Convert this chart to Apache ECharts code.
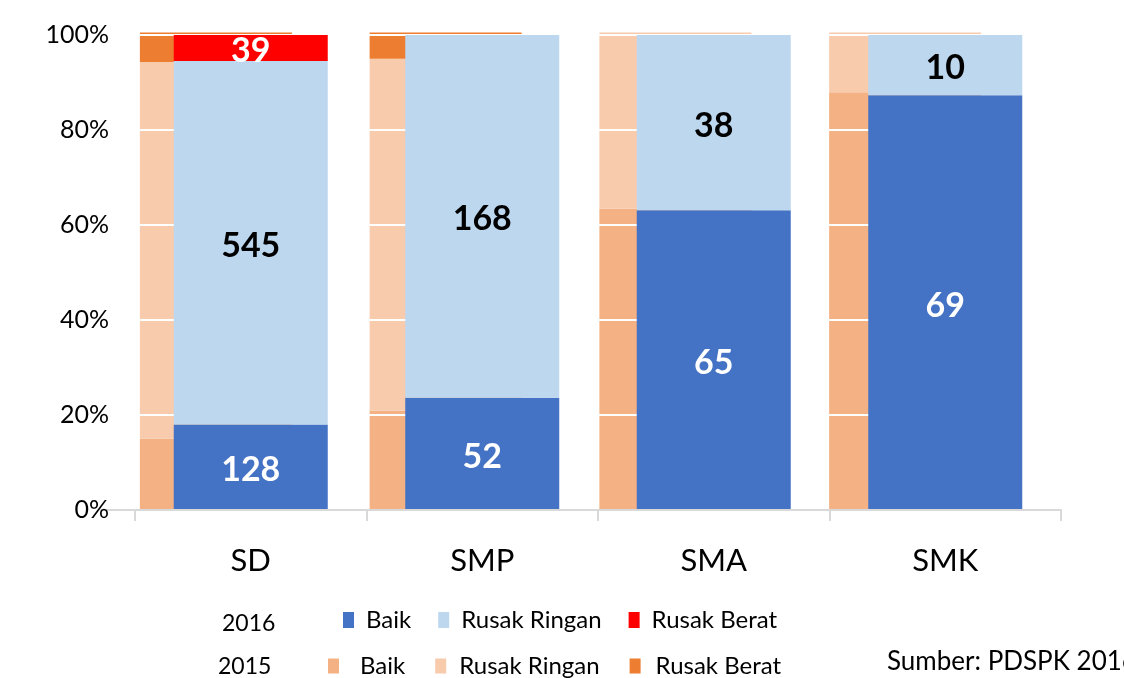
<!DOCTYPE html>
<html>
<head>
<meta charset="utf-8">
<script src="https://cdn.jsdelivr.net/npm/echarts@6/dist/echarts.min.js"></script>
<style>
  html, body { margin: 0; background: #fff; }
  #chart { width: 1124px; height: 678px; }
</style>
</head>
<body>
<div id="chart"></div>
<script>
var categories = ['SD', 'SMP', 'SMA', 'SMK'];
// 2016 - jumlah ruang kelas (labels on the bars)
var baik2016 = [128, 52, 65, 69];
var ringan2016 = [545, 168, 38, 10];
var berat2016 = [39, 0, 0, 0];
// 2015 - shares in %
var baik2015 = [14.9, 20.8, 63.1, 87.5];
var ringan2015 = [78.9, 73.7, 36.9, 12.5];
var berat2015 = [6.2, 5.5, 0, 0];
var yTicks = [0, 20, 40, 60, 80, 100];

var FONT = 'Lato';

function toPercent(arr) {
  return arr.map(function (v, i) {
    var total = baik2016[i] + ringan2016[i] + berat2016[i];
    return v / total * 100;
  });
}

function countLabel(counts, color) {
  return {
    show: true,
    position: 'inside',
    offset: [0, 3],
    color: color,
    fontFamily: FONT,
    fontWeight: 'bold',
    fontSize: 34,
    formatter: function (p) {
      var v = counts[p.dataIndex];
      return v ? String(v) : '';
    }
  };
}

var chart = echarts.init(document.getElementById('chart'));

chart.setOption({
  backgroundColor: '#fff',
  animation: false,
  grid: [
    { left: 135, width: 926, top: 35, height: 475 },   // 2016
    { left: 101, width: 919, top: 32.5, height: 477.5 }  // 2015 (behind, shifted)
  ],
  xAxis: [{
    type: 'category',
    gridIndex: 0,
    data: categories,
    z: 6,
    axisLine: { lineStyle: { color: '#d9d9d9', width: 2 } },
    axisTick: { show: true, length: 11, lineStyle: { color: '#d9d9d9', width: 2 } },
    axisLabel: { color: '#000', fontFamily: FONT, fontSize: 31, margin: 35 }
  }, {
    type: 'category',
    gridIndex: 1,
    data: categories,
    axisLine: { lineStyle: { color: '#d9d9d9', width: 2 } },
    axisTick: { show: false },
    axisLabel: { show: false }
  }],
  yAxis: [{
    type: 'value',
    gridIndex: 0,
    min: yTicks[0],
    max: yTicks[yTicks.length - 1],
    interval: 20,
    z: 3,
    axisLine: { show: false },
    axisTick: { show: false },
    splitLine: { lineStyle: { color: '#fff', width: 2 } },
    axisLabel: { color: '#000', fontFamily: FONT, fontSize: 25, margin: 26, formatter: '{value}%' }
  }, {
    type: 'value',
    gridIndex: 1,
    min: 0,
    max: 100,
    show: false,
    splitLine: { show: false }
  }],
  legend: [{
    left: 343,
    top: 608,
    padding: 0,
    icon: 'rect',
    itemWidth: 11,
    itemHeight: 16,
    itemGap: 27,
    selectedMode: false,
    textStyle: { color: '#000', fontFamily: FONT, fontSize: 24, padding: [0, 0, 0, 7] },
    data: ['Baik', 'Rusak Ringan', 'Rusak Berat']
  }, {
    left: 328,
    top: 654,
    padding: 0,
    icon: 'rect',
    itemWidth: 11,
    itemHeight: 15,
    itemGap: 30,
    selectedMode: false,
    formatter: function (name) { return name.replace(' 2015', ''); },
    textStyle: { color: '#000', fontFamily: FONT, fontSize: 24, padding: [0, 0, 0, 7] },
    data: [
      { name: 'Baik 2015', textStyle: { padding: [0, 0, 0, 16] } },
      { name: 'Rusak Ringan 2015', textStyle: { padding: [0, 0, 0, 8] } },
      { name: 'Rusak Berat 2015', textStyle: { padding: [0, 0, 0, 10] } }
    ]
  }],
  graphic: [
    { type: 'text', left: 222, top: 612, style: { text: '2016', font: '23px ' + FONT, fill: '#000' } },
    { type: 'text', left: 218, top: 655, style: { text: '2015', font: '23px ' + FONT, fill: '#000' } },
    { type: 'text', left: 887, top: 649, style: { text: 'Sumber: PDSPK 2016', font: '26px ' + FONT, fill: '#000' } }
  ],
  series: [
    // 2015 (behind)
    { name: 'Baik 2015', type: 'bar', stack: 'y2015', xAxisIndex: 1, yAxisIndex: 1, z: 1,
      barWidth: 152, itemStyle: { color: '#F4B183' }, data: baik2015 },
    { name: 'Rusak Ringan 2015', type: 'bar', stack: 'y2015', xAxisIndex: 1, yAxisIndex: 1, z: 1,
      barWidth: 152, itemStyle: { color: '#F8CBAD' }, data: ringan2015 },
    { name: 'Rusak Berat 2015', type: 'bar', stack: 'y2015', xAxisIndex: 1, yAxisIndex: 1, z: 1,
      barWidth: 152, itemStyle: { color: '#ED7D31' }, data: berat2015 },
    // 2016 (front)
    { name: 'Baik', type: 'bar', stack: 'y2016', xAxisIndex: 0, yAxisIndex: 0, z: 5,
      barWidth: 154, itemStyle: { color: '#4472C4' },
      label: countLabel(baik2016, '#fff'), data: toPercent(baik2016) },
    { name: 'Rusak Ringan', type: 'bar', stack: 'y2016', xAxisIndex: 0, yAxisIndex: 0, z: 5,
      barWidth: 154, itemStyle: { color: '#BDD7EE' },
      label: countLabel(ringan2016, '#000'), data: toPercent(ringan2016) },
    { name: 'Rusak Berat', type: 'bar', stack: 'y2016', xAxisIndex: 0, yAxisIndex: 0, z: 5,
      barWidth: 154, itemStyle: { color: '#FF0000' },
      label: countLabel(berat2016, '#fff'), data: toPercent(berat2016) }
  ]
});
</script>
</body>
</html>
